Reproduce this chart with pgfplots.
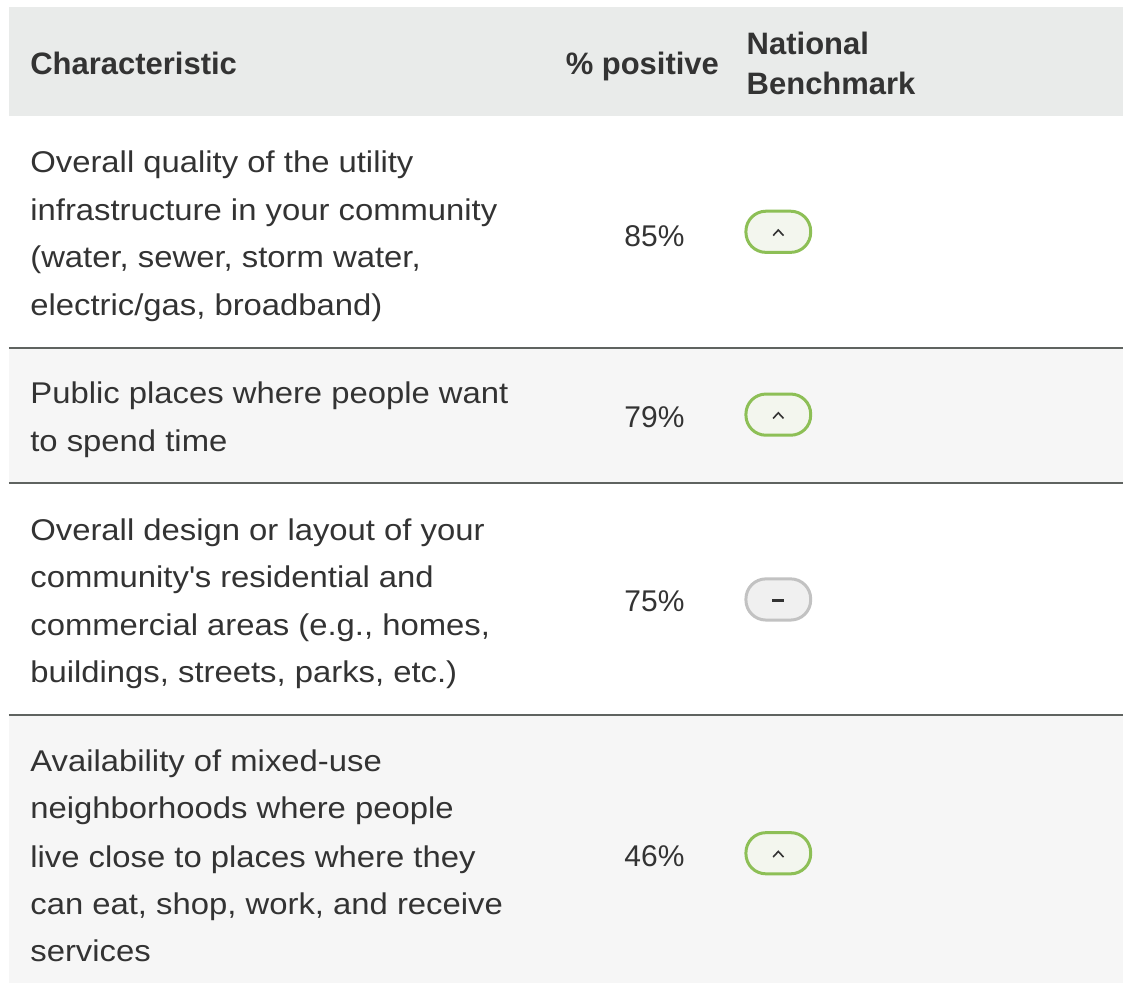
\documentclass[border=0pt]{standalone}
\usepackage{pgfplots}
\pgfplotsset{compat=1.18}
\usepackage{pgfplotstable}
\usepackage{fontspec}
\setmainfont{Liberation Sans}
\newfontfamily\bodyfam{Liberation Sans}[FakeStretch=1.095]

\definecolor{txt}{HTML}{333333}
\definecolor{headbg}{HTML}{E9EBEA}
\definecolor{altbg}{HTML}{F6F6F6}
\definecolor{rule}{HTML}{5F6360}
\definecolor{upfill}{HTML}{F3F6EE}
\definecolor{updraw}{HTML}{8DBF56}
\definecolor{eqfill}{HTML}{F0F0F0}
\definecolor{eqdraw}{HTML}{C2C2C2}

\newcommand{\bodyfont}{\fontsize{15pt}{18pt}\selectfont}
\newcommand{\headfont}{\fontsize{15.5pt}{18pt}\selectfont\bfseries}
\newcommand{\bodyline}[2]{\node[anchor=base west, inner sep=0pt, font=\bodyfam\bodyfont, text=txt] at (axis cs:30,#1) {#2};}

% pill shaped benchmark badges
\pgfdeclareplotmark{pillup}{%
  \pgfsetlinewidth{1.5pt}%
  \pgfsetfillcolor{upfill}\pgfsetstrokecolor{updraw}%
  \pgfsetcornersarced{\pgfpoint{10pt}{10pt}}%
  \pgfpathrectanglecorners{\pgfpoint{-16.2pt}{-10.3pt}}{\pgfpoint{16.2pt}{10.3pt}}%
  \pgfusepath{fill,stroke}%
  \pgfsetcornersarced{\pgfpointorigin}%
  \pgfsetlinewidth{0.8pt}\pgfsetstrokecolor{txt}%
  \pgfpathmoveto{\pgfpoint{-2.6pt}{-1.9pt}}%
  \pgfpathlineto{\pgfpoint{0pt}{0.9pt}}%
  \pgfpathlineto{\pgfpoint{2.6pt}{-1.9pt}}%
  \pgfusepath{stroke}%
}
\pgfdeclareplotmark{pilleq}{%
  \pgfsetlinewidth{1.5pt}%
  \pgfsetfillcolor{eqfill}\pgfsetstrokecolor{eqdraw}%
  \pgfsetcornersarced{\pgfpoint{10pt}{10pt}}%
  \pgfpathrectanglecorners{\pgfpoint{-16.2pt}{-10.3pt}}{\pgfpoint{16.2pt}{10.3pt}}%
  \pgfusepath{fill,stroke}%
  \pgfsetcornersarced{\pgfpointorigin}%
  \pgfsetlinewidth{1.4pt}\pgfsetstrokecolor{txt}%
  \pgfpathmoveto{\pgfpoint{-3pt}{-0.5pt}}%
  \pgfpathlineto{\pgfpoint{3pt}{-0.5pt}}%
  \pgfusepath{stroke}%
}

% % positive values, drawn at the row centres
\pgfplotstableread{
x   y    val
655 236  85\%
655 418  79\%
655 602  75\%
655 857  46\%
}\valtable

\pgfplotstableread{
x   y
779 232
779 415
779 854
}\uptable

\pgfplotstableread{
x   y
779 600
}\eqtable

\begin{document}
\begin{tikzpicture}
\begin{axis}[
    scale only axis,
    width=562pt, height=492pt,
    xmin=0, xmax=1124, ymin=0, ymax=984,
    y dir=reverse,
    hide axis,
    clip=false,
  ]
  % backgrounds
  \addplot[fill=white, draw=none] coordinates {(0,0) (1124,0) (1124,984) (0,984)};
  \addplot[fill=headbg, draw=none] coordinates {(9,7) (1124,7) (1124,116) (9,116)};
  \addplot[fill=altbg, draw=none] coordinates {(9,349) (1124,349) (1124,483) (9,483)};
  \addplot[fill=altbg, draw=none] coordinates {(9,716) (1124,716) (1124,984) (9,984)};
  % row rules
  \addplot[rule, line width=1pt] coordinates {(9,348) (1124,348)};
  \addplot[rule, line width=1pt] coordinates {(9,483.5) (1124,483.5)};
  \addplot[rule, line width=1pt] coordinates {(9,715.5) (1124,715.5)};

  % header
  \node[anchor=base west, inner sep=0pt, font=\headfont, text=txt] at (axis cs:30,75) {Characteristic};
  \node[anchor=base east, inner sep=0pt, font=\headfont, text=txt] at (axis cs:720,75) {\% positive};
  \node[anchor=base west, inner sep=0pt, font=\headfont, text=txt] at (axis cs:747,55) {National};
  \node[anchor=base west, inner sep=0pt, font=\headfont, text=txt] at (axis cs:747,95) {Benchmark};

  % characteristics
  \bodyline{173}{Overall quality of the utility}
  \bodyline{221}{infrastructure in your community}
  \bodyline{268}{(water, sewer, storm water,}
  \bodyline{316}{electric/gas, broadband)}
  \bodyline{404}{Public places where people want}
  \bodyline{452}{to spend time}
  \bodyline{541}{Overall design or layout of your}
  \bodyline{588}{community\textquotesingle s residential and}
  \bodyline{636}{commercial areas (e.g., homes,}
  \bodyline{683}{buildings, streets, parks, etc.)}
  \bodyline{772}{Availability of mixed-use}
  \bodyline{819}{neighborhoods where people}
  \bodyline{868}{live close to places where they}
  \bodyline{915}{can eat, shop, work, and receive}
  \bodyline{962}{services}

  % values
  \addplot[only marks, mark=none, point meta=explicit symbolic,
    nodes near coords, nodes near coords align={center},
    every node near coord/.append style={anchor=center, inner sep=0pt, font=\bodyfont, text=txt}]
    table[x=x, y=y, meta=val] {\valtable};

  % benchmark badges
  \addplot[only marks, mark=pillup] table[x=x, y=y] {\uptable};
  \addplot[only marks, mark=pilleq] table[x=x, y=y] {\eqtable};
\end{axis}
\end{tikzpicture}
\end{document}
